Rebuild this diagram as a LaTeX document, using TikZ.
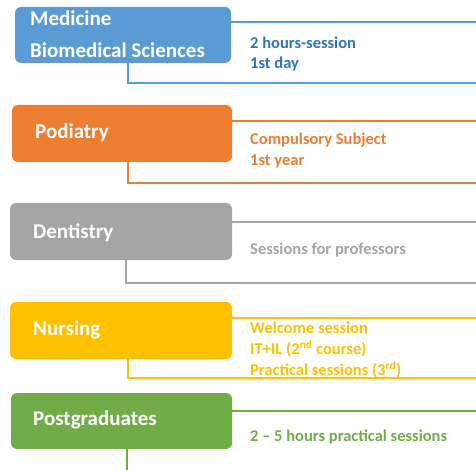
\documentclass[tikz,border=0pt]{standalone}
\usepackage{fontspec}
\setmainfont{Carlito}
\definecolor{cblue}{HTML}{5B9BD5}
\definecolor{cbluetext}{HTML}{2E75B6}
\definecolor{corange}{HTML}{ED7D31}
\definecolor{cgray}{HTML}{A5A5A5}
\definecolor{cyellow}{HTML}{FFC000}
\definecolor{cgreen}{HTML}{70AD47}
\tikzset{
  box/.style={rectangle, rounded corners=6pt, minimum width=220pt, minimum height=57pt, inner sep=0pt},
  boxtext/.style={anchor=west, text=white, font=\bfseries\fontsize{21}{24}\selectfont, inner sep=0pt},
  side/.style={anchor=west, font=\bfseries\fontsize{16.5}{19}\selectfont, inner sep=0pt},
  conn/.style={line width=2.6pt}
}
\begin{document}
\begin{tikzpicture}[x=1pt,y=-1pt]
\useasboundingbox (0,0) rectangle (476,470);
% Medicine
\node[box, fill=cblue, minimum width=216pt, minimum height=56pt] (med) at (123,35) {};
\node[boxtext] (medt1) at (30,18) {Medicine};
\node[boxtext] (medt2) at (30,50) {Biomedical Sciences};
\coordinate (medr) at (476,22);
\coordinate (medb) at (476,83);
\draw[conn, cblue] (med.east |- medr) -- (medr);
\draw[conn, cblue] ([xshift=5pt]med.south) |- (medb);
\node[side, text=cbluetext] (meds1) at (250,43) {2 hours-session};
\node[side, text=cbluetext] (meds2) at (250,64) {1st day};
% Podiatry
\node[box, fill=corange] (pod) at (122,133.5) {};
\node[boxtext] (podt) at (35,133) {Podiatry};
\coordinate (podr) at (476,121);
\coordinate (podb) at (476,183);
\draw[conn, corange] (pod.east |- podr) -- (podr);
\draw[conn, corange] ([xshift=6pt]pod.south) |- (podb);
\node[side, text=corange] (pods1) at (250,140) {Compulsory Subject};
\node[side, text=corange] (pods2) at (250,161) {1st year};
% Dentistry
\node[box, fill=cgray, minimum width=222pt] (den) at (121,231.5) {};
\node[boxtext] (dent) at (33,233) {Dentistry};
\coordinate (denr) at (476,222);
\coordinate (denb) at (476,283);
\draw[conn, cgray] (den.east |- denr) -- (denr);
\draw[conn, cgray] ([xshift=5pt]den.south) |- (denb);
\node[side, text=cgray] (dens1) at (250,250) {Sessions for professors};
% Nursing
\node[box, fill=cyellow, minimum width=222pt] (nur) at (121,330.5) {};
\node[boxtext] (nurt) at (33,330) {Nursing};
\coordinate (nurr) at (476,318);
\coordinate (nurb) at (476,378);
\draw[conn, cyellow] (nur.east |- nurr) -- (nurr);
\draw[conn, cyellow] ([xshift=7pt]nur.south) |- (nurb);
\node[side, text=cyellow] (nurs1) at (250,328) {Welcome session};
\node[side, text=cyellow] (nurs2) at (250,349) {IT+IL (2\textsuperscript{nd} course)};
\node[side, text=cyellow] (nurs3) at (250,370) {Practical sessions (3\textsuperscript{rd})};
% Postgraduates
\node[box, fill=cgreen, minimum width=221pt, minimum height=56pt] (pos) at (121.5,421) {};
\node[boxtext] (post) at (33,420) {Postgraduates};
\coordinate (posr) at (476,411);
\coordinate (posb) at (127,470);
\draw[conn, cgreen] (pos.east |- posr) -- (posr);
\draw[conn, cgreen] (pos.south -| posb) -- (posb);
\node[side, text=cgreen] (poss1) at (250,437) {2 – 5 hours practical sessions};
\end{tikzpicture}
\end{document}
